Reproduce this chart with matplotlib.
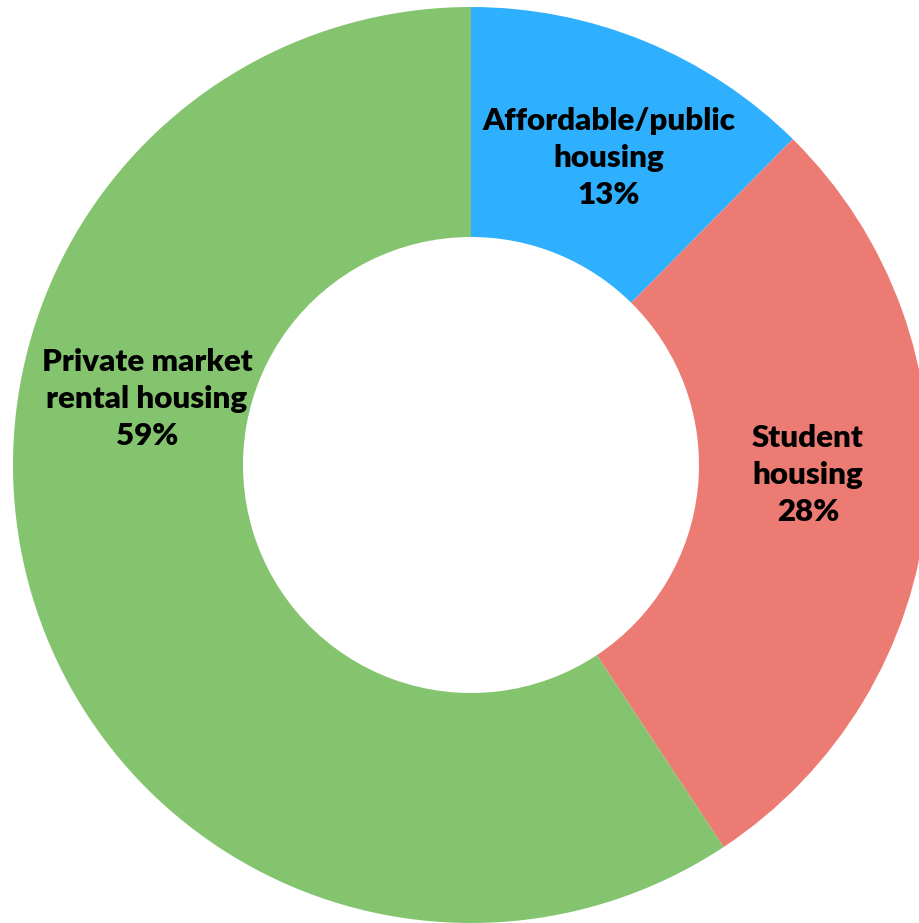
import matplotlib.pyplot as plt

categories = ['Affordable/public\nhousing', 'Student\nhousing', 'Private market\nrental housing']
shares = [12.4, 28.3, 59.3]          # wedge sizes as drawn
share_labels = ['13%', '28%', '59%']  # text printed on the chart
colors = ['#2EB0FF', '#EC7B73', '#85C46E']

# label centres in pixel coords (x from left, y from top)
label_pos = [(609, 158), (808, 475), (147, 399)]

W, H = 919, 923
fig = plt.figure(figsize=(W / 100, H / 100), dpi=100)
ax = fig.add_axes([0, 0, 1, 1])

cx, cy, R = 471, H - 465, 458
ax.pie(shares, colors=colors, startangle=90, counterclock=False,
       center=(cx, cy), radius=R, frame=True,
       wedgeprops=dict(width=R - 228, linewidth=0))
ax.set_xlim(0, W)
ax.set_ylim(0, H)
ax.set_aspect('auto')
ax.axis('off')

for cat, lab, (x, y) in zip(categories, share_labels, label_pos):
    ax.text(x, H - y, f'{cat}\n{lab}', ha='center', va='center',
            fontsize=22.5, fontweight='heavy', family='Lato', linespacing=1.4)

fig.savefig('out.png', dpi=100)
